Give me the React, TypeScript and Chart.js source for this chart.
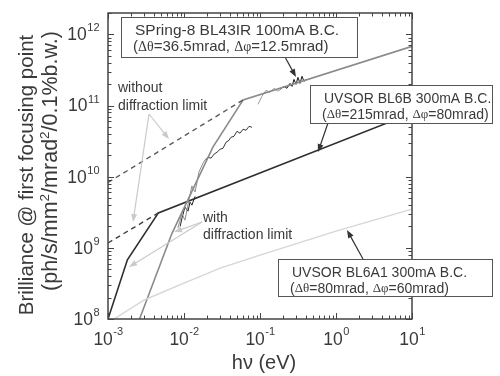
import { useEffect, useRef } from "react";
import { Chart, registerables } from "chart.js";

Chart.register(...registerables);

// Axis ranges (photon energy in eV, brilliance)
const X_MIN = 1e-3;
const X_MAX = 10;
const Y_MIN = 1e8;
const Y_MAX = 2e12;
const X_DECADES = [-3, -2, -1, 0, 1];
const Y_DECADES = [8, 9, 10, 11, 12];

// SPring-8 BL43IR, with diffraction limit (calculated)
const spring8WithX = [2.6e-3, 6.95e-3, 2.4e-2, 6.0e-2, 10];
const spring8WithY = [1.0e8, 1.6e9, 2.6e10, 1.2e11, 6.8e11];
// SPring-8 BL43IR, without diffraction limit
const spring8WithoutX = [1e-3, 6.0e-2];
const spring8WithoutY = [8.3e9, 1.2e11];

// UVSOR BL6B, with / without diffraction limit
const bl6bWithX = [1e-3, 1.8e-3, 4.6e-3, 10];
const bl6bWithY = [1.0e8, 6.8e8, 3.1e9, 7.8e10];
const bl6bWithoutX = [1e-3, 4.6e-3];
const bl6bWithoutY = [1.17e9, 3.1e9];

// UVSOR BL6A1
const bl6a1X = [1.2e-3, 3.0e-3, 1.0e-2, 3.0e-2, 0.1, 1, 10];
const bl6a1Y = [1.0e8, 1.85e8, 3.2e8, 5.2e8, 7.9e8, 1.72e9, 3.5e9];

// Measured spectra, SPring-8 BL43IR (low-energy part, grey)
const measLowX = [8.3e-3, 9.4e-3, 1.03e-2, 1.16e-2, 1.27e-2, 1.4e-2, 1.57e-2, 1.78e-2, 1.95e-2];
const measLowY = [1.9e9, 3.0e9, 2.45e9, 4.7e9, 7.4e9, 6.1e9, 1.16e10, 1.55e10, 1.8e10];
// Measured, SPring-8 (mid range, black)
const measMidX = [1.89e-2, 2.07e-2, 2.27e-2, 2.48e-2, 2.72e-2, 2.98e-2, 3.26e-2, 3.57e-2, 3.91e-2, 4.15e-2, 4.55e-2, 4.98e-2, 5.46e-2, 5.98e-2, 6.55e-2, 7.17e-2, 7.85e-2];
const measMidY = [1.7e10, 1.88e10, 1.82e10, 2.07e10, 2.21e10, 2.43e10, 2.51e10, 3.05e10, 3.25e10, 3.58e10, 3.7e10, 4.35e10, 4.08e10, 4.65e10, 4.5e10, 5.1e10, 4.95e10];
// Measured, SPring-8 (high range, grey)
const measHighX = [0.094, 0.106, 0.12, 0.135, 0.153, 0.172, 0.195];
const measHighY = [1.04e11, 1.35e11, 1.64e11, 1.53e11, 1.75e11, 1.59e11, 1.75e11];
// Measured, SPring-8 (high range, black)
const measTopX = [0.183, 0.207, 0.226, 0.248, 0.264, 0.28, 0.298, 0.316, 0.336, 0.357, 0.379, 0.403];
const measTopY = [1.69e11, 1.86e11, 1.75e11, 2.05e11, 1.86e11, 2.33e11, 1.99e11, 2.49e11, 2.05e11, 2.58e11, 2.19e11, 2.33e11];
// Measured, UVSOR BL6B (black)
const measBl6bX = [8.9e-3, 9.4e-3, 1.03e-2, 1.13e-2, 1.2e-2, 1.27e-2, 1.4e-2];
const measBl6bY = [2.0e9, 2.62e9, 3.73e9, 3.28e9, 4.38e9, 3.98e9, 5.3e9];

const SANS = '"Liberation Sans", Arial, sans-serif';
const SERIF = '"Liberation Serif", "Times New Roman", serif';
const TEXT = "#3a3a3a";

type Seg = { t: string; f: string; dy?: number };

const sans = (s: number) => `${s}px ${SANS}`;
const serif = (s: number) => `${s}px ${SERIF}`;

function paramLine(a: string, b: string, size: number): Seg[] {
  return [
    { t: "(", f: sans(size) },
    { t: "Δθ", f: serif(size - 1) },
    { t: "=" + a + ", ", f: sans(size) },
    { t: "Δφ", f: serif(size - 1) },
    { t: "=" + b + ")", f: sans(size) },
  ];
}

const boxes = [
  { x: 121, y: 17, w: 236, h: 40, size: 15.5, title: "SPring-8 BL43IR 100mA B.C.", params: paramLine("36.5mrad", "12.5mrad", 15) },
  { x: 310, y: 85, w: 182, h: 38, size: 14, title: "UVSOR BL6B 300mA B.C.", params: paramLine("215mrad", "80mrad", 14) },
  { x: 278, y: 259, w: 214, h: 37, size: 14, title: "UVSOR BL6A1 300mA B.C.", params: paramLine("80mrad", "60mrad", 14) },
];

const arrows = [
  { from: [285, 57], to: [296, 77], color: "#333" },
  { from: [328, 123], to: [318, 152], color: "#333" },
  { from: [363, 259], to: [347, 230], color: "#333" },
  { from: [149, 114], to: [133, 222], color: "#cacaca" },
  { from: [149, 114], to: [169, 139], color: "#cacaca" },
  { from: [202, 222], to: [174, 232], color: "#cacaca" },
  { from: [202, 222], to: [129, 267], color: "#cacaca" },
];

const notes = [
  { x: 118, y: 88, t: "without" },
  { x: 118, y: 106, t: "diffraction limit" },
  { x: 203, y: 218, t: "with" },
  { x: 203, y: 235, t: "diffraction limit" },
];

function richWidth(ctx: CanvasRenderingContext2D, segs: Seg[]) {
  let w = 0;
  for (const s of segs) {
    ctx.font = s.f;
    w += ctx.measureText(s.t).width;
  }
  return w;
}

function drawRich(ctx: CanvasRenderingContext2D, segs: Seg[], x: number, y: number) {
  let cx = x;
  for (const s of segs) {
    ctx.font = s.f;
    ctx.fillText(s.t, cx, y + (s.dy || 0));
    cx += ctx.measureText(s.t).width;
  }
}

function drawArrow(ctx: CanvasRenderingContext2D, from: number[], to: number[], color: string) {
  const [x0, y0] = from;
  const [x1, y1] = to;
  const ang = Math.atan2(y1 - y0, x1 - x0);
  const len = 8;
  const half = 3;
  ctx.strokeStyle = color;
  ctx.fillStyle = color;
  ctx.lineWidth = 1.2;
  ctx.beginPath();
  ctx.moveTo(x0, y0);
  ctx.lineTo(x1 - Math.cos(ang) * len * 0.8, y1 - Math.sin(ang) * len * 0.8);
  ctx.stroke();
  ctx.beginPath();
  ctx.moveTo(x1, y1);
  ctx.lineTo(x1 - Math.cos(ang) * len - Math.sin(ang) * half, y1 - Math.sin(ang) * len + Math.cos(ang) * half);
  ctx.lineTo(x1 - Math.cos(ang) * len + Math.sin(ang) * half, y1 - Math.sin(ang) * len - Math.cos(ang) * half);
  ctx.closePath();
  ctx.fill();
}

const framePlugin = {
  id: "frameAndNotes",
  afterDatasetsDraw(chart: any) {
    const { ctx, chartArea: a, scales } = chart;
    const xs = scales.x;
    const ys = scales.y;
    ctx.save();

    // inward ticks on all four sides
    ctx.strokeStyle = "#444";
    ctx.lineWidth = 1;
    const majorLen = 6;
    const minorLen = 3.5;
    for (let d = -3; d <= 1; d++) {
      for (let k = 1; k <= 9; k++) {
        const v = k * Math.pow(10, d);
        if (v < X_MIN * 0.999 || v > X_MAX * 1.001) continue;
        const px = Math.round(xs.getPixelForValue(v)) + 0.5;
        const L = k === 1 ? majorLen : minorLen;
        ctx.beginPath();
        ctx.moveTo(px, a.bottom);
        ctx.lineTo(px, a.bottom - L);
        ctx.moveTo(px, a.top);
        ctx.lineTo(px, a.top + L);
        ctx.stroke();
      }
    }
    for (let d = 8; d <= 12; d++) {
      for (let k = 1; k <= 9; k++) {
        const v = k * Math.pow(10, d);
        if (v < Y_MIN * 0.999 || v > Y_MAX * 1.001) continue;
        const py = Math.round(ys.getPixelForValue(v)) + 0.5;
        const L = k === 1 ? majorLen : minorLen;
        ctx.beginPath();
        ctx.moveTo(a.left, py);
        ctx.lineTo(a.left + L, py);
        ctx.moveTo(a.right, py);
        ctx.lineTo(a.right - L, py);
        ctx.stroke();
      }
    }

    // frame
    ctx.lineWidth = 1.5;
    ctx.strokeStyle = "#444";
    ctx.strokeRect(a.left, a.top, a.right - a.left, a.bottom - a.top);

    // tick labels: 10 with superscript exponent
    ctx.fillStyle = TEXT;
    ctx.textBaseline = "middle";
    ctx.textAlign = "left";
    for (const d of Y_DECADES) {
      const py = ys.getPixelForValue(Math.pow(10, d));
      const exp = String(d);
      ctx.font = sans(17.5);
      const w10 = ctx.measureText("10").width;
      ctx.font = sans(11);
      const wE = ctx.measureText(exp).width;
      const x0 = a.left - 9 - w10 - wE;
      ctx.font = sans(17.5);
      ctx.fillText("10", x0, py + 1);
      ctx.font = sans(11);
      ctx.fillText(exp, x0 + w10 + 0.5, py - 6);
    }
    for (const d of X_DECADES) {
      const px = xs.getPixelForValue(Math.pow(10, d));
      const exp = String(d);
      ctx.font = sans(17.5);
      const w10 = ctx.measureText("10").width;
      ctx.font = sans(11);
      const wE = ctx.measureText(exp).width;
      const x0 = px - (w10 + wE) / 2;
      ctx.font = sans(17.5);
      ctx.fillText("10", x0, a.bottom + 21);
      ctx.font = sans(11);
      ctx.fillText(exp, x0 + w10 + 0.5, a.bottom + 13);
    }

    // axis titles
    ctx.font = sans(20);
    ctx.textAlign = "center";
    ctx.textBaseline = "middle";
    ctx.fillText("hν (eV)", (a.left + a.right) / 2 + 4, 363);

    ctx.save();
    ctx.translate(33, 175);
    ctx.rotate(-Math.PI / 2);
    ctx.textAlign = "center";
    ctx.textBaseline = "alphabetic";
    ctx.font = sans(20.5);
    ctx.fillText("Brilliance @ first focusing point", 0, 0);
    ctx.restore();

    const unit: Seg[] = [
      { t: "(ph/s/mm", f: sans(21.5) },
      { t: "2", f: sans(13.5), dy: -8 },
      { t: "/mrad", f: sans(21.5) },
      { t: "2", f: sans(13.5), dy: -8 },
      { t: "/0.1%b.w.)", f: sans(21.5) },
    ];
    ctx.save();
    ctx.translate(57, 161);
    ctx.rotate(-Math.PI / 2);
    ctx.textAlign = "left";
    ctx.textBaseline = "alphabetic";
    drawRich(ctx, unit, -richWidth(ctx, unit) / 2, 0);
    ctx.restore();

    // curve notes
    ctx.fillStyle = TEXT;
    ctx.textAlign = "left";
    ctx.textBaseline = "middle";
    ctx.font = sans(14);
    for (const n of notes) ctx.fillText(n.t, n.x, n.y);

    // arrows
    for (const ar of arrows) drawArrow(ctx, ar.from, ar.to, ar.color);

    // labelled boxes
    for (const b of boxes) {
      ctx.fillStyle = "#fff";
      ctx.fillRect(b.x, b.y, b.w, b.h);
      ctx.strokeStyle = "#555";
      ctx.lineWidth = 1;
      ctx.strokeRect(b.x + 0.5, b.y + 0.5, b.w, b.h);
      ctx.fillStyle = TEXT;
      ctx.textAlign = "left";
      ctx.textBaseline = "middle";
      ctx.font = sans(b.size);
      ctx.fillText(b.title, b.x + 14, b.y + 14);
      drawRich(ctx, b.params, b.x + 12, b.y + 30);
    }
    ctx.restore();
  },
};

function pts(xs: number[], ys: number[]) {
  return xs.map((x, i) => ({ x, y: ys[i] }));
}

function series(xs: number[], ys: number[], color: string, width: number, dash: number[] = []) {
  return {
    data: pts(xs, ys),
    borderColor: color,
    borderWidth: width,
    borderDash: dash,
    pointRadius: 0,
    fill: false,
    tension: 0,
  };
}

export default function App() {
  const ref = useRef<HTMLCanvasElement | null>(null);

  useEffect(() => {
    if (!ref.current) return;
    const chart = new Chart(ref.current, {
      type: "line",
      data: {
        datasets: [
          series(bl6a1X, bl6a1Y, "#d6d6d6", 1.4),
          series(spring8WithoutX, spring8WithoutY, "#5c5c5c", 1.4, [5, 4]),
          series(bl6bWithoutX, bl6bWithoutY, "#404040", 1.4, [5, 4]),
          series(spring8WithX, spring8WithY, "#8a8a8a", 1.6),
          series(measLowX, measLowY, "#8e8e8e", 1),
          series(measHighX, measHighY, "#9a9a9a", 1),
          series(bl6bWithX, bl6bWithY, "#2e2e2e", 1.6),
          series(measMidX, measMidY, "#222", 0.9),
          series(measTopX, measTopY, "#151515", 1),
          series(measBl6bX, measBl6bY, "#222", 1),
        ] as any,
      },
      options: {
        animation: false,
        responsive: false,
        devicePixelRatio: 1,
        layout: { padding: { left: 108, right: 88, top: 13, bottom: 57 } },
        plugins: { legend: { display: false }, tooltip: { enabled: false } },
        scales: {
          x: { type: "logarithmic", min: X_MIN, max: X_MAX, display: false },
          y: { type: "logarithmic", min: Y_MIN, max: Y_MAX, display: false },
        },
      },
      plugins: [framePlugin],
    });
    return () => chart.destroy();
  }, []);

  return (
    <div style={{ position: "fixed", left: 0, top: 0, width: 500, height: 376, background: "#fff" }}>
      <canvas ref={ref} width={500} height={376} style={{ display: "block" }} />
    </div>
  );
}
